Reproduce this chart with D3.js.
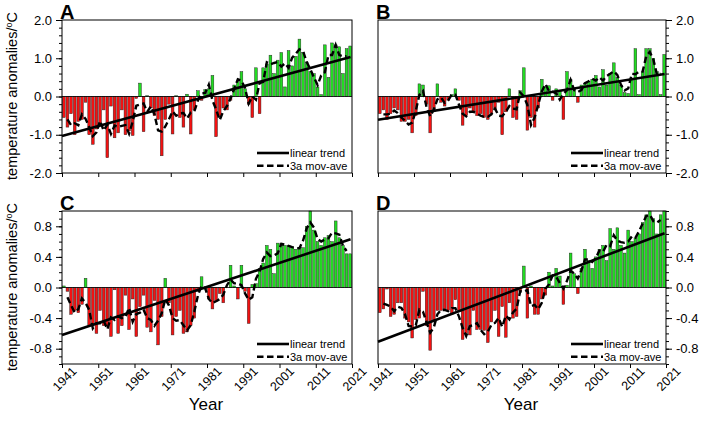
<!DOCTYPE html>
<html lang="en">
<head>
<meta charset="UTF-8">
<title>Temperature anomalies</title>
<script src="https://d3js.org/d3.v7.min.js"></script>
<style>
  body { margin: 0; background: #fff; }
  svg { font-family: "Liberation Sans", Arial, Helvetica, sans-serif; }
  .tick text { font-size: 13px; fill: #000; }
  .tick line { stroke: #000; }
  .domain { display: none; }
</style>
</head>
<body>
<div id="chart"></div>
<script>

	// years 1941-2020, one bar each
	var years = d3.range(1941, 2021);
	var xTicks = [1941, 1951, 1961, 1971, 1981, 1991, 2001, 2011, 2021];

	var valuesA = [-0.55,-0.8,-0.45,-1.0,-0.65,-0.6,-0.15,-1.0,-1.25,-0.85,
	  -0.72,-0.35,-1.6,-0.25,-1.08,-0.95,-0.35,-1.0,-0.9,-1.02,
	  -0.05,0.35,-0.92,0.02,-0.3,-0.5,-0.6,-1.55,-0.6,-0.2,
	  -0.98,0.02,-0.55,-0.8,0.06,-0.98,-0.35,0.15,-0.1,0.18,
	  0.2,0.55,-1.05,-0.5,-0.3,-0.35,-0.1,0.3,0.4,0.65,
	  0.2,-0.2,-0.55,0.75,-0.45,0.75,0.85,1.08,0.6,0.95,
	  1.15,0.25,1.2,0.8,1.05,1.5,1.15,0.9,0.65,0.6,
	  0.25,0.05,1.35,0.5,1.4,1.35,1.3,0.6,1.25,1.32];

	var valuesB = [-0.45,-0.35,-0.6,-0.45,-0.3,-0.35,-0.65,-0.65,-0.6,-0.95,
	  -0.5,0.33,0.3,-0.2,-0.95,-0.4,0.33,-0.15,-0.25,-0.1,
	  0.05,0.2,-0.1,-0.75,-0.5,-0.3,-0.4,-0.5,-0.45,-0.55,
	  -0.6,-0.45,-0.35,-0.15,-1.0,-0.4,0.2,-0.55,-0.6,0.15,
	  0.75,-0.88,-0.55,-0.8,-0.3,0.45,0.25,0.28,-0.1,0.2,
	  0.15,-0.6,0.65,0.45,0.2,-0.15,0.3,0.35,0.4,0.45,
	  0.55,0.25,0.7,0.3,0.6,0.88,0.5,0.3,0.1,0.08,
	  0.45,1.25,0.05,0.65,1.25,1.25,1.0,0.65,0.05,1.1];

	var valuesC = [0.02,-0.05,-0.35,-0.3,-0.33,-0.22,0.12,-0.5,-0.5,-0.6,
	  -0.3,-0.5,-0.5,-0.64,-0.03,-0.6,-0.5,-0.1,-0.55,-0.15,
	  -0.64,-0.25,-0.1,-0.52,-0.58,-0.17,-0.75,-0.38,0.12,-0.2,
	  -0.62,-0.38,-0.3,-0.6,-0.58,-0.5,-0.4,-0.05,0.14,-0.02,
	  -0.15,-0.28,-0.18,-0.08,-0.2,0.0,0.29,0.02,-0.15,0.29,
	  -0.05,-0.47,0.04,0.05,0.25,0.32,0.55,0.5,0.18,0.58,
	  0.58,0.55,0.55,0.53,0.5,0.52,0.52,0.8,1.0,0.75,
	  0.6,0.55,0.65,0.68,0.6,0.87,0.65,0.55,0.44,0.44];

	var valuesD = [-0.33,-0.28,-0.02,-0.38,-0.35,-0.2,-0.2,-0.4,-0.45,-0.66,
	  -0.42,-0.4,-0.05,-0.5,-0.82,-0.45,-0.3,-0.3,-0.28,-0.3,
	  -0.35,-0.16,-0.3,-0.68,-0.6,-0.62,-0.3,-0.55,-0.55,-0.56,
	  -0.72,-0.45,-0.3,-0.64,-0.25,-0.65,-0.2,-0.4,-0.38,-0.05,
	  0.28,-0.4,0.02,-0.35,-0.35,-0.15,-0.1,0.2,0.02,0.25,
	  0.15,-0.22,0.03,0.45,0.18,-0.08,0.25,0.5,0.35,0.25,
	  0.4,0.5,0.55,0.35,0.77,0.5,0.78,0.55,0.45,0.75,
	  0.6,0.65,0.7,0.85,0.95,1.0,0.9,0.7,0.95,1.0];

	// linear trend, value at 1941 and at 2020
	var trendA = [-1.03, 1.03];
	var trendB = [-0.61, 0.59];
	var trendC = [-0.62, 0.63];
	var trendD = [-0.71, 0.71];

	var bigTicks = [-2, -1, 0, 1, 2];
	var smallTicks = [-0.8, -0.4, 0, 0.4, 0.8];

	var svg = d3.select("#chart")
	  .append("svg")
	    .attr("width", 706)
	    .attr("height", 421);

	// shared y label
	function yLabel(cy) {
	  var t = svg.append("text")
	    .attr("transform", "translate(17," + cy + ") rotate(-90)")
	    .attr("text-anchor", "middle")
	    .style("font-size", "14.5px");
	  t.append("tspan").text("temperature anomalies/");
	  t.append("tspan").text("o").attr("dy", -5).style("font-size", "9px");
	  t.append("tspan").text("C").attr("dy", 5);
	}

	function panel(opt) {
	  var w = opt.x1 - opt.x0, h = opt.y1 - opt.y0;
	  var g = svg.append("g")
	    .attr("transform", "translate(" + opt.x0 + "," + opt.y0 + ")");

	  var x = d3.scaleLinear().domain([1941, 2021]).range([0, w]);
	  var y = d3.scaleLinear().domain(opt.yDomain).range([h, 0]);

	  // bars
	  var pad = 0.12;
	  g.selectAll("rect.bar")
	    .data(opt.values)
	    .enter()
	    .append("rect")
	      .attr("class", "bar")
	      .attr("x", function(d, i) { return x(years[i] + pad); })
	      .attr("width", x(1941 + 1 - pad) - x(1941 + pad))
	      .attr("y", function(d) { return y(Math.max(0, d)); })
	      .attr("height", function(d) { return Math.abs(y(d) - y(0)); })
	      .attr("fill", function(d) { return d >= 0 ? "#22dc22" : "#f41212"; })
	      .attr("stroke", "#222")
	      .attr("stroke-width", 0.45);

	  // zero reference line
	  g.append("line")
	    .attr("x1", 0).attr("x2", w)
	    .attr("y1", y(0)).attr("y2", y(0))
	    .attr("stroke", "#000").attr("stroke-width", 0.8);

	  // 3-year moving average
	  var mov = [];
	  for (var i = 1; i < opt.values.length - 1; i++) {
	    mov.push({yr: years[i] + 0.5, v: (opt.values[i - 1] + opt.values[i] + opt.values[i + 1]) / 3});
	  }
	  g.append("path")
	    .datum(mov)
	    .attr("fill", "none")
	    .attr("stroke", "#000")
	    .attr("stroke-width", 2.4)
	    .attr("stroke-dasharray", "6.5,3.5")
	    .attr("d", d3.line()
	      .x(function(d) { return x(d.yr); })
	      .y(function(d) { return y(d.v); }));

	  // linear trend
	  g.append("line")
	    .attr("x1", x(1941)).attr("y1", y(opt.trend[0]))
	    .attr("x2", x(2020.6)).attr("y2", y(opt.trend[1]))
	    .attr("stroke", "#000")
	    .attr("stroke-width", 2.6);

	  // frame
	  g.append("rect")
	    .attr("width", w).attr("height", h)
	    .attr("fill", "none")
	    .attr("stroke", "#000")
	    .attr("stroke-width", 1);

	  // y axis, minor + major
	  var minor = opt.yDomain[1] == 2 ? d3.range(-2, 2.01, 0.2) : d3.range(-1, 1.01, 0.1);
	  var fmt = function(d) { return d.toFixed(1); };
	  var axisFn = opt.right ? d3.axisRight : d3.axisLeft;
	  var yx = opt.right ? w : 0;
	  g.append("g")
	    .attr("transform", "translate(" + yx + ",0)")
	    .call(axisFn(y).tickValues(minor).tickSize(3).tickFormat(""));
	  g.append("g")
	    .attr("transform", "translate(" + yx + ",0)")
	    .call(axisFn(y).tickValues(opt.yTicks).tickSize(6).tickPadding(4).tickFormat(fmt));

	  // x axis
	  var xa = g.append("g")
	    .attr("transform", "translate(0," + h + ")")
	    .call(d3.axisBottom(x).tickValues(xTicks).tickSize(4)
	      .tickFormat(opt.xLabels ? d3.format("d") : ""));
	  if (opt.xLabels) {
	    xa.selectAll("text")
	      .attr("text-anchor", "end")
	      .attr("transform", "translate(15,8) rotate(-45)")
	      .attr("dy", 0)
	      .attr("x", 0).attr("y", 0)
	      .style("font-size", "12.5px");
	    svg.append("text")
	      .attr("x", opt.x0 + w / 2 - 1)
	      .attr("y", 410)
	      .attr("text-anchor", "middle")
	      .style("font-size", "17px")
	      .text("Year");
	  }

	  // legend
	  var lg = g.append("g").attr("transform", "translate(" + (w - 95) + "," + (h - 20) + ")");
	  lg.append("line").attr("x1", 0).attr("x2", 32).attr("y1", 0).attr("y2", 0)
	    .attr("stroke", "#000").attr("stroke-width", 2.6);
	  lg.append("text").attr("x", 33).attr("y", 4).style("font-size", "11px").text("linear trend");
	  lg.append("line").attr("x1", 0).attr("x2", 32).attr("y1", 12.8).attr("y2", 12.8)
	    .attr("stroke", "#000").attr("stroke-width", 2.4).attr("stroke-dasharray", "6.5,3.5");
	  lg.append("text").attr("x", 33).attr("y", 16.8).style("font-size", "11px").text("3a mov-ave");

	  // panel letter
	  svg.append("text")
	    .attr("x", opt.x0 - 2)
	    .attr("y", opt.y0 - 1.5)
	    .style("font-size", "20px")
	    .style("font-weight", "bold")
	    .text(opt.label);
	}

	panel({label: "A", values: valuesA, trend: trendA, x0: 62, x1: 352, y0: 20, y1: 173,
	  yDomain: [-2, 2], yTicks: bigTicks, right: false, xLabels: false});
	panel({label: "B", values: valuesB, trend: trendB, x0: 378, x1: 666, y0: 20, y1: 173,
	  yDomain: [-2, 2], yTicks: bigTicks, right: true, xLabels: false});
	panel({label: "C", values: valuesC, trend: trendC, x0: 62, x1: 352, y0: 211, y1: 364,
	  yDomain: [-1, 1], yTicks: smallTicks, right: false, xLabels: true});
	panel({label: "D", values: valuesD, trend: trendD, x0: 378, x1: 666, y0: 211, y1: 364,
	  yDomain: [-1, 1], yTicks: smallTicks, right: true, xLabels: true});

	yLabel(96);
	yLabel(287);

</script>
</body>
</html>
